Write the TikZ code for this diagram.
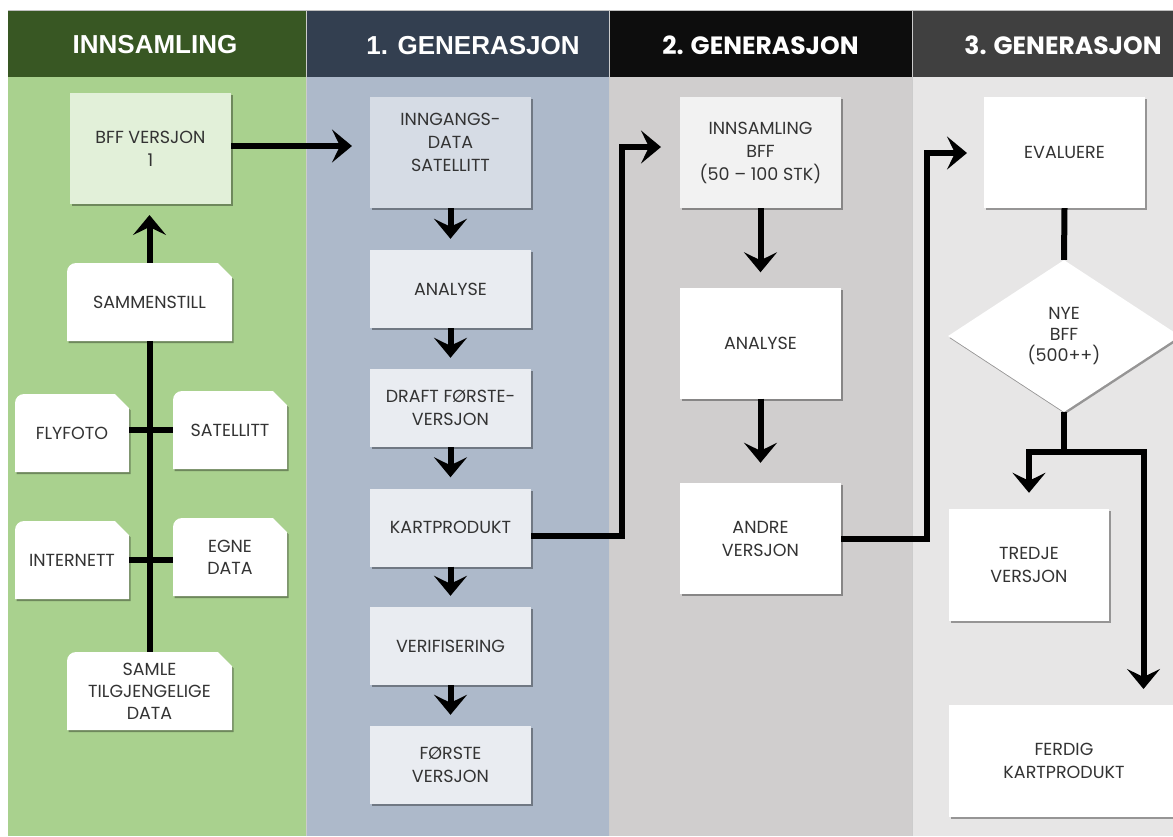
\documentclass[tikz,border=0pt]{standalone}
\usepackage{fontspec}
\setmainfont{Poppins}
\newfontfamily\hdrfont{Liberation Sans}
\usetikzlibrary{arrows.meta,shadows,calc,shapes.geometric}
\definecolor{hgreen}{HTML}{385723}
\definecolor{bgreen}{HTML}{A9D18E}
\definecolor{hslate}{HTML}{333F50}
\definecolor{bslate}{HTML}{ADB9CA}
\definecolor{hblack}{HTML}{0D0D0D}
\definecolor{bgray}{HTML}{D0CECE}
\definecolor{hdgray}{HTML}{404040}
\definecolor{blgray}{HTML}{E7E6E6}
\definecolor{bffbox}{HTML}{E2F0D9}
\definecolor{inbox}{HTML}{D6DCE5}
\definecolor{slbox}{HTML}{E9ECF1}
\definecolor{gbox}{HTML}{F2F2F2}
\definecolor{txt}{HTML}{333333}
\tikzset{
  shad/.style={drop shadow={shadow xshift=1.5pt,shadow yshift=-2pt,opacity=0.35,fill=black}},
  boxnode/.style={rectangle,shad,align=center,text=txt,inner sep=2pt,
    font=\fontsize{17.5}{23}\selectfont,minimum width=161pt},
  snipnode/.style={rectangle,align=center,text=txt,inner sep=0pt,
    font=\fontsize{17.5}{22}\selectfont},
  hdrA/.style={text=white,font=\hdrfont\bfseries\fontsize{26}{30}\selectfont},
  hdrB/.style={text=white,font=\bfseries\fontsize{25}{30}\selectfont},
  conn/.style={line width=6pt,black},
  arr/.style={conn,-{Stealth[length=20pt,width=33pt,inset=8pt]}},
}
\newcommand\snipbox[6]{%
  \fill[white,shad] (#2,#5) -- (#2,#3+9) arc[start angle=180,end angle=90,radius=9pt]
     -- (#4-14,#3) -- (#4,#3+14) -- (#4,#5) -- cycle;
  \node[snipnode,minimum width=#4-#2,minimum height=#5-#3] (#1) at ({(#2+#4)/2},{(#3+#5)/2}) {#6};}
\begin{document}
\begin{tikzpicture}[x=1pt,y=-1pt]
\useasboundingbox (0,0) rectangle (1173,836);
\clip (0,0) rectangle (1173,836);
% background columns
\fill[white] (0,0) rectangle (1173,836);
\fill[black!25] (8,10) rectangle (1173,11);
\fill[hgreen] (8,11) rectangle (306,77);
\fill[bgreen] (8,77) rectangle (306,836);
\fill[hslate] (306,11) rectangle (609,77);
\fill[bslate] (306,77) rectangle (609,836);
\fill[hblack] (609,11) rectangle (912,77);
\fill[bgray] (609,77) rectangle (912,836);
\fill[hdgray] (912,11) rectangle (1173,77);
\fill[blgray] (912,77) rectangle (1173,836);
\foreach \xx in {306.5,609.5,912.5} \draw[black!20,line width=0.8pt] (\xx,11) -- (\xx,836);
% headers
\node[hdrA] (h1) at (155,45) {INNSAMLING};
\node[hdrA] (h2) at (473,46) {1. GENERASJON};
\node[hdrB] (h3) at (760.5,45) {2. GENERASJON};
\node[hdrB] (h4) at (1063,45) {3. GENERASJON};
% column 1
\node[boxnode,fill=bffbox,minimum height=111pt] (bff) at (150.5,148.5) {BFF VERSJON\\1};
\snipbox{samm}{67}{263}{232}{341}{SAMMENSTILL}
\snipbox{fly}{15}{394}{129}{472}{FLYFOTO}
\snipbox{sat}{173}{391}{287}{469}{SATELLITT}
\snipbox{inet}{15}{521}{129}{599}{INTERNETT}
\snipbox{egne}{173}{518}{287}{596}{EGNE\\DATA}
\snipbox{samle}{67}{652}{232}{730}{SAMLE\\TILGJENGELIGE\\DATA}
\draw[conn] (samle.north) -- (samm.south);
\draw[conn] (sat.west) -- (sat.west -| fly.east);
\draw[conn] (egne.west |- 0,560) -- (inet.east |- 0,560);
\coordinate (tipE) at (149.5,215);
\draw[arr] (samm.north) -- (tipE);
% column 2
\node[boxnode,fill=inbox,minimum height=111pt] (inn) at (450.5,152.5) {INNGANGS-\\DATA\\SATELLITT\\[-3pt]\mbox{}};
\node[boxnode,fill=slbox,minimum height=78pt] (ana1) at (450.5,289) {ANALYSE};
\node[boxnode,fill=slbox,minimum height=78pt] (draft) at (450.5,408) {DRAFT FØRSTE-\\VERSJON};
\node[boxnode,fill=slbox,minimum height=78pt] (kart) at (450.5,527.5) {KARTPRODUKT};
\node[boxnode,fill=slbox,minimum height=78pt] (veri) at (450.5,646) {VERIFISERING};
\node[boxnode,fill=slbox,minimum height=78pt] (forste) at (450.5,765) {FØRSTE\\VERSJON};
\coordinate (tipA) at (352,146);
\draw[arr] (bff.east |- tipA) -- (tipA);
\draw[arr] (inn.south) -- ([yshift=11pt]ana1.north);
\draw[arr] (ana1.south) -- ([yshift=11pt]draft.north);
\draw[arr] (draft.south) -- ([yshift=11pt]kart.north);
\draw[arr] (kart.south) -- ([yshift=11pt]veri.north);
\draw[arr] (veri.south) -- ([yshift=11pt]forste.north);
% column 3
\node[boxnode,fill=gbox,minimum height=111pt] (ibff) at (760.5,152.5) {INNSAMLING\\BFF\\(50 – 100 STK)};
\node[boxnode,fill=white,minimum height=111pt] (ana2) at (760.5,343) {ANALYSE};
\node[boxnode,fill=white,minimum height=111pt] (andre) at (760.5,538.5) {ANDRE\\VERSJON};
\coordinate (k1) at (622,535.5);
\coordinate (tipB) at (661,147);
\draw[arr] (kart.east |- k1) -- (k1) |- (tipB);
\draw[arr] (ibff.south) -- ([yshift=15pt]ana2.north);
\draw[arr] (ana2.south) -- ([yshift=20pt]andre.north);
% column 4
\node[boxnode,fill=white,minimum height=111pt] (eval) at (1064.5,152.5) {EVALUERE};
\node[diamond,fill=white,shad,minimum width=232pt,minimum height=152pt,inner sep=0pt,
  align=center,text=txt,font=\fontsize{17.5}{21}\selectfont] (nye) at (1064,336) {NYE\\BFF\\(500++)};
\node[boxnode,fill=white,minimum height=112pt,minimum width=160pt] (tredje) at (1029,565) {TREDJE\\VERSJON};
\node[boxnode,fill=white,minimum height=112pt,minimum width=230pt] (ferdig) at (1064,761) {FERDIG\\KARTPRODUKT};
\coordinate (k2) at (926.5,538.5);
\coordinate (tipC) at (967,153);
\draw[arr] (andre.east) -- (k2) |- (tipC);
\draw[conn] (eval.south) -- (nye.north);
\coordinate (jn) at (1064,451.5);
\coordinate (tipD) at (1143.5,689);
\draw[conn] (nye.south) -- (jn);
\draw[arr] (jn) -| ([yshift=16pt]tredje.north);
\draw[arr] (jn) -| (tipD);
\end{tikzpicture}
\end{document}
